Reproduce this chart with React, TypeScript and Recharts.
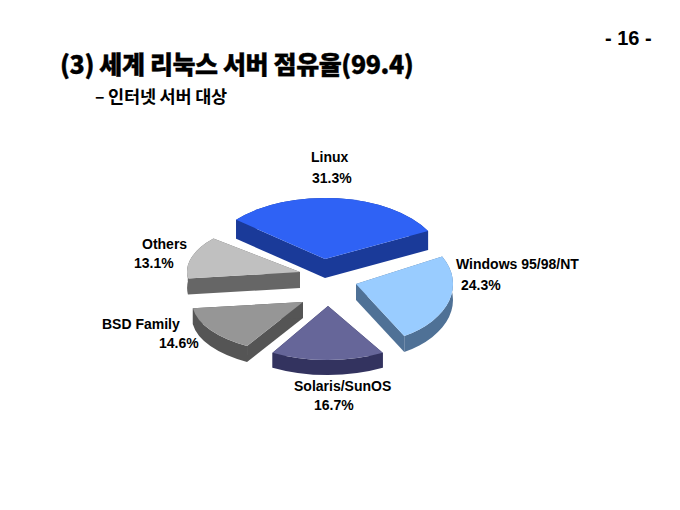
import React from "react";
import { PieChart, Pie, Cell } from "recharts";

const names = ["Linux", "Windows 95/98/NT", "Solaris/SunOS", "BSD Family", "Others"];
const shares = [31.3, 24.3, 16.7, 14.6, 13.1];
const shareLabels = ["31.3%", "24.3%", "16.7%", "14.6%", "13.1%"];
const tableRows = names.map((name, i) => ({ name, value: shares[i] }));

const topColors = ["#2f62f5", "#99ccff", "#666699", "#969696", "#c0c0c0"];
const sideColors = ["#1a3a99", "#4f7196", "#33335f", "#555555", "#666666"];
const explodeX = [3, 34, 6, -19, -22];
const explodeY = [-23, 2, 24, 20, -10];
const radiusX = [116, 97, 110, 111, 113];
const radiusY = [61, 60, 54, 51, 52];
const depth = [19, 16, 15, 16, 16];
const nameXY = [[311, 162], [456, 269], [294, 391], [102, 329], [142, 249]];
const valueXY = [[312, 183], [461, 290], [314, 410], [159, 348], [134, 268]];

const RAD = Math.PI / 180;

function slice(props: any) {
  const i = names.indexOf(props.name ?? props.payload?.name);
  const cx = props.cx + explodeX[i];
  const cy = props.cy + explodeY[i];
  const rx = radiusX[i];
  const ry = radiusY[i];
  const d = depth[i];
  const a = props.startAngle * RAD;
  const b = props.endAngle * RAD;
  const x1 = cx + rx * Math.cos(a);
  const y1 = cy - ry * Math.sin(a);
  const x2 = cx + rx * Math.cos(b);
  const y2 = cy - ry * Math.sin(b);
  const large = Math.abs(props.endAngle - props.startAngle) > 180 ? 1 : 0;
  const arc = `A${rx} ${ry} 0 ${large} 1 ${x2} ${y2}`;
  const back = `A${rx} ${ry} 0 ${large} 0 ${x1} ${y1 + d}`;
  return (
    <g>
      <path d={`M${x1} ${y1} ${arc} L${x2} ${y2 + d} ${back} Z`} fill={sideColors[i]} />
      <path d={`M${cx} ${cy} L${x1} ${y1} L${x1} ${y1 + d} L${cx} ${cy + d} Z`} fill={sideColors[i]} />
      <path d={`M${cx} ${cy} L${x2} ${y2} L${x2} ${y2 + d} L${cx} ${cy + d} Z`} fill={sideColors[i]} />
      <path d={`M${cx} ${cy} L${x1} ${y1} ${arc} Z`} fill={topColors[i]} />
    </g>
  );
}

const labelStyle = { fontFamily: "'Liberation Sans', Arial, sans-serif", fontWeight: 700, fontSize: 14, fill: "#000" };

function label(props: any) {
  const i = props.index;
  return (
    <g>
      <text x={nameXY[i][0]} y={nameXY[i][1]} {...labelStyle}>{names[i]}</text>
      <text x={valueXY[i][0]} y={valueXY[i][1]} {...labelStyle}>{shareLabels[i]}</text>
    </g>
  );
}

const krFont = "'Noto Sans CJK KR', sans-serif";

export default function App() {
  return (
    <div style={{ position: "fixed", left: 0, top: 0, width: 680, height: 510, background: "#fff" }}>
      <PieChart width={680} height={510} margin={{ top: 0, right: 0, bottom: 0, left: 0 }}>
        <text x={605} y={45} fontFamily="'Liberation Sans', sans-serif" fontWeight={700} fontSize={20} fill="#000">- 16 -</text>
        <text x={60} y={74} fontFamily={krFont} fontWeight={900} fontSize={25} fill="#000" stroke="#000" strokeWidth={0.4} letterSpacing={-0.4}>(3) 세계 리눅스 서버 점유율(99.4)</text>
        <text x={95} y={103} fontFamily={krFont} fontWeight={700} fontSize={17.5} fill="#000" letterSpacing={-0.2}>– 인터넷 서버 대상</text>
        <Pie
          data={tableRows}
          dataKey="value"
          nameKey="name"
          cx={322}
          cy={282}
          outerRadius={110}
          startAngle={140}
          endAngle={-220}
          paddingAngle={0}
          stroke="none"
          shape={slice}
          label={label}
          labelLine={false}
          isAnimationActive={false}
        >
          {tableRows.map((row, i) => (
            <Cell key={row.name} fill={topColors[i]} />
          ))}
        </Pie>
      </PieChart>
    </div>
  );
}
